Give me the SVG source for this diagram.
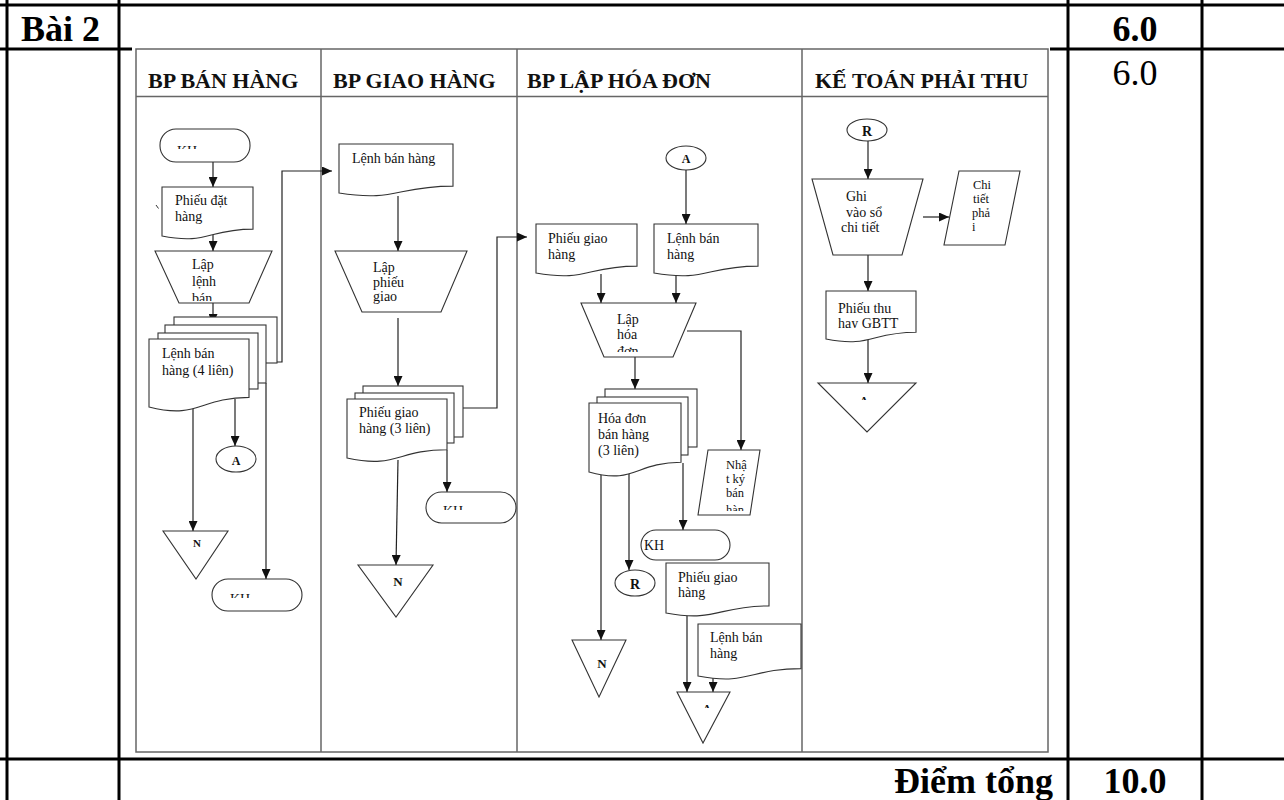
<svg xmlns="http://www.w3.org/2000/svg" width="1284" height="800" viewBox="0 0 1284 800">
<style>
.tl{stroke:#000;stroke-width:3;fill:none}
.fr{stroke:#666;stroke-width:1.5;fill:none}
.s{fill:#fff;stroke:#333;stroke-width:1.1}
.c{fill:none;stroke:#222;stroke-width:1.2;marker-end:url(#ah)}
.t{font-family:"Liberation Serif","Times New Roman",serif;font-size:14px;fill:#111}
.ts{font-family:"Liberation Serif","Times New Roman",serif;font-size:12.5px;fill:#111}
.tb{font-family:"Liberation Serif","Times New Roman",serif;font-weight:bold;fill:#111}
.big{font-family:"Liberation Serif","Times New Roman",serif;font-size:36px;fill:#000}
.hd{font-family:"Liberation Serif","Times New Roman",serif;font-size:22px;font-weight:bold;fill:#111}
</style>
<defs>
<marker id="ah" markerUnits="userSpaceOnUse" markerWidth="10" markerHeight="9" refX="10" refY="4.5" orient="auto"><path d="M0,0 L10,4.5 L0,9 Z" fill="#111"/></marker>
<clipPath id="k1"><rect x="160" y="120" width="90" height="29"/></clipPath>
<clipPath id="k2"><rect x="212" y="570" width="90" height="28"/></clipPath>
<clipPath id="k3"><rect x="426" y="490" width="90" height="20"/></clipPath>
<clipPath id="q1"><rect x="150" y="250" width="130" height="51"/></clipPath>
<clipPath id="q3"><rect x="580" y="300" width="120" height="52"/></clipPath>
<clipPath id="p1"><rect x="690" y="450" width="80" height="61"/></clipPath>
<clipPath id="n2"><rect x="380" y="578" width="40" height="20"/></clipPath>
<clipPath id="n3"><rect x="585" y="660" width="40" height="20"/></clipPath>
<clipPath id="a3"><rect x="690" y="690" width="40" height="18"/></clipPath>
<clipPath id="a4"><rect x="850" y="390" width="40" height="10"/></clipPath>
<clipPath id="d4"><rect x="826" y="291" width="90" height="37"/></clipPath>
</defs>
<rect width="1284" height="800" fill="#fff"/>
<g id="table">
<line class="tl" x1="0" y1="5" x2="1284" y2="5"/>
<line class="tl" x1="0" y1="49" x2="132" y2="49"/>
<line class="tl" x1="1050" y1="49" x2="1284" y2="49"/>
<line class="tl" x1="0" y1="759" x2="1284" y2="759"/>
<line class="tl" x1="7" y1="0" x2="7" y2="800"/>
<line class="tl" x1="119" y1="0" x2="119" y2="800"/>
<line class="tl" x1="1068" y1="0" x2="1068" y2="800"/>
<line class="tl" x1="1202" y1="0" x2="1202" y2="800"/>
<text class="big" font-weight="bold" x="21" y="41">Bài 2</text>
<text class="big" font-weight="bold" x="1135" y="41" text-anchor="middle">6.0</text>
<text class="big" x="1135" y="85" text-anchor="middle">6.0</text>
<text class="big" font-weight="bold" x="1053" y="793" text-anchor="end">Điểm tổng</text>
<text class="big" font-weight="bold" x="1135" y="793" text-anchor="middle">10.0</text>
</g>
<g id="lanes">
<rect class="fr" x="136" y="49" width="912" height="703"/>
<line class="fr" x1="136" y1="96.5" x2="1048" y2="96.5"/>
<line class="fr" x1="321" y1="49" x2="321" y2="752"/>
<line class="fr" x1="517" y1="49" x2="517" y2="752"/>
<line class="fr" x1="802" y1="49" x2="802" y2="752"/>
<text class="hd" x="148" y="88">BP BÁN HÀNG</text>
<text class="hd" x="333" y="88">BP GIAO HÀNG</text>
<text class="hd" x="527" y="88">BP LẬP HÓA ĐƠN</text>
<text class="hd" x="815" y="88">KẾ TOÁN PHẢI THU</text>
</g>
<g id="connectors">
<line class="c" x1="213" y1="162" x2="213" y2="187"/>
<line class="c" x1="213" y1="235" x2="213" y2="251"/>
<line class="c" x1="213" y1="303" x2="213" y2="324"/>
<path class="c" d="M277,362 H282 V171 H332"/>
<line class="c" x1="235" y1="399" x2="235" y2="446"/>
<line class="c" x1="193" y1="408" x2="193" y2="531"/>
<line class="c" x1="266" y1="383" x2="266" y2="579"/>
<line class="c" x1="398" y1="196" x2="398" y2="251"/>
<line class="c" x1="398" y1="318" x2="398" y2="386"/>
<path class="c" d="M463,408 H497 V237 H527"/>
<line class="c" x1="398" y1="460" x2="396" y2="565"/>
<line class="c" x1="447" y1="450" x2="447" y2="492"/>
<line class="c" x1="686" y1="170" x2="686" y2="224"/>
<line class="c" x1="601" y1="274" x2="601" y2="303"/>
<line class="c" x1="676" y1="276" x2="676" y2="303"/>
<path class="c" d="M687,331 H741 V450"/>
<line class="c" x1="635" y1="357" x2="635" y2="389"/>
<line class="c" x1="601" y1="475" x2="601" y2="640"/>
<line class="c" x1="629" y1="472" x2="629" y2="570"/>
<line class="c" x1="683" y1="463" x2="683" y2="530"/>
<line class="c" x1="687" y1="615" x2="687" y2="692"/>
<line class="c" x1="713" y1="676" x2="713" y2="692"/>
<line class="c" x1="868" y1="141" x2="868" y2="179"/>
<line class="c" x1="923" y1="217" x2="949" y2="217"/>
<line class="c" x1="868" y1="255" x2="868" y2="291"/>
<line class="c" x1="868" y1="340" x2="868" y2="383"/>
</g>
<g id="n-kh1">
<rect class="s" x="160" y="129" width="90" height="33" rx="16"/>
<text class="t" x="177" y="156" clip-path="url(#k1)">KH</text>
</g>
<g id="n-phieudathang">
<path class="s" d="M162,187 H253 V229.1 C207.5,229.1 207.5,245.1 162,236 Z"/>
<path d="M156,205 L158.5,208.5" stroke="#333" stroke-width="1" fill="none"/>
<text class="t" x="175" y="205">Phiếu đặt</text>
<text class="t" x="175" y="221">hàng</text>
</g>
<g id="n-laplenhban">
<path class="s" d="M155,251 H272 L249,303 H179 Z"/>
<g clip-path="url(#q1)">
<text class="t" x="192" y="269">Lập</text>
<text class="t" x="192" y="286">lệnh</text>
<text class="t" x="192" y="303">bán</text>
</g>
</g>
<g id="n-lenhbanhang4">
<rect class="s" x="174" y="317" width="103" height="46"/>
<rect class="s" x="165" y="325" width="101" height="58"/>
<rect class="s" x="158" y="333" width="100" height="56"/>
<path class="s" d="M149,339 H249 V397.4 C199,397.4 199,419.6 149,407 Z"/>
<text class="t" x="162" y="358">Lệnh bán</text>
<text class="t" x="162" y="375">hàng (4 liên)</text>
</g>
<g id="n-a1">
<ellipse class="s" cx="236" cy="459" rx="20" ry="13"/>
<text class="tb" font-size="12" x="236" y="465" text-anchor="middle">A</text>
</g>
<g id="n-n1">
<path class="s" d="M163,531 H228 L196,579 Z"/>
<text class="tb" font-size="11" x="197" y="547" text-anchor="middle">N</text>
</g>
<g id="n-kh2">
<rect class="s" x="212" y="579" width="90" height="32" rx="16"/>
<text class="t" x="230" y="604" clip-path="url(#k2)">KH</text>
</g>
<g id="n-lenhbanhang2">
<path class="s" d="M339,144 H453 V186.1 C396,186.1 396,202.1 339,193 Z"/>
<text class="t" x="352" y="163">Lệnh bán hàng</text>
</g>
<g id="n-lapphieugiao">
<path class="s" d="M335,251 H467 L441,312 H362 Z"/>
<text class="t" x="373" y="272">Lập</text>
<text class="t" x="373" y="287">phiếu</text>
<text class="t" x="373" y="301">giao</text>
</g>
<g id="n-phieugiaohang3">
<rect class="s" x="363" y="386" width="100" height="51"/>
<rect class="s" x="355" y="393" width="99" height="50"/>
<path class="s" d="M347,399 H447 V449.7 C397,449.7 397,468.9 347,458 Z"/>
<text class="t" x="359" y="417">Phiếu giao</text>
<text class="t" x="359" y="433">hàng (3 liên)</text>
</g>
<g id="n-kh3">
<rect class="s" x="426" y="492" width="90" height="31" rx="15.5"/>
<text class="t" x="443" y="516" clip-path="url(#k3)">KH</text>
</g>
<g id="n-n2">
<path class="s" d="M358,565 H433 L396,617 Z"/>
<text class="tb" font-size="13" x="398" y="586" text-anchor="middle" clip-path="url(#n2)">N</text>
</g>
<g id="n-a3">
<ellipse class="s" cx="686" cy="158" rx="20" ry="12"/>
<text class="tb" font-size="12" x="686" y="163" text-anchor="middle">A</text>
</g>
<g id="n-phieugiaohang-l3">
<path class="s" d="M536,224 H637 V266.1 C586.5,266.1 586.5,282.1 536,273 Z"/>
<text class="t" x="548" y="243">Phiếu giao</text>
<text class="t" x="548" y="259">hàng</text>
</g>
<g id="n-lenhbanhang-l3">
<path class="s" d="M654,224 H758 V266.1 C706,266.1 706,282.1 654,273 Z"/>
<text class="t" x="667" y="243">Lệnh bán</text>
<text class="t" x="667" y="259">hàng</text>
</g>
<g id="n-laphoadon">
<path class="s" d="M581,303 H696 L673,357 H604 Z"/>
<g clip-path="url(#q3)">
<text class="t" x="617" y="324">Lập</text>
<text class="t" x="617" y="339">hóa</text>
<text class="t" x="617" y="356">đơn</text>
</g>
</g>
<g id="n-nhatky">
<path class="s" d="M708,450 H760 L750,515 H698 Z"/>
<g clip-path="url(#p1)">
<text class="ts" x="726" y="469">Nhậ</text>
<text class="ts" x="726" y="483">t ký</text>
<text class="ts" x="726" y="497">bán</text>
<text class="ts" x="726" y="514">hàn</text>
</g>
</g>
<g id="n-hoadon3">
<rect class="s" x="605" y="389" width="92" height="58"/>
<rect class="s" x="597" y="397" width="91" height="58"/>
<path class="s" d="M589,403 H681 V462.3 C635,462.3 635,484.8 589,472 Z"/>
<text class="t" x="598" y="423">Hóa đơn</text>
<text class="t" x="598" y="439">bán hàng</text>
<text class="t" x="598" y="455">(3 liên)</text>
</g>
<g id="n-kh4">
<rect class="s" x="641" y="530" width="89" height="30" rx="15"/>
<text class="t" font-size="15" x="644" y="550">KH</text>
</g>
<g id="n-r3">
<ellipse class="s" cx="635" cy="583" rx="20" ry="13"/>
<text class="tb" font-size="14" x="635" y="589" text-anchor="middle">R</text>
</g>
<g id="n-phieugiaohang-l3b">
<path class="s" d="M666,563 H769 V605.9 C717.5,605.9 717.5,622.3 666,613 Z"/>
<text class="t" x="678" y="582">Phiếu giao</text>
<text class="t" x="678" y="597">hàng</text>
</g>
<g id="n-lenhbanhang-l3b">
<path class="s" d="M698,624 H801 V668.6 C749.5,668.6 749.5,685.6 698,676 Z"/>
<text class="t" x="710" y="642">Lệnh bán</text>
<text class="t" x="710" y="658">hàng</text>
</g>
<g id="n-n3">
<path class="s" d="M572,640 H626 L599,697 Z"/>
<text class="tb" font-size="13" x="602" y="668" text-anchor="middle" clip-path="url(#n3)">N</text>
</g>
<g id="n-a3b">
<path class="s" d="M677,692 H730 L703,743 Z"/>
<text class="tb" font-size="11" x="707" y="712" text-anchor="middle" clip-path="url(#a3)">A</text>
</g>
<g id="n-r4">
<ellipse class="s" cx="867" cy="130" rx="20" ry="11"/>
<text class="tb" font-size="14" x="867" y="136" text-anchor="middle">R</text>
</g>
<g id="n-ghivaoso">
<path class="s" d="M812,179 H923 L902,255 H833 Z"/>
<text class="t" x="846" y="201">Ghi</text>
<text class="t" x="846" y="217">vào sổ</text>
<text class="t" x="841" y="232">chi tiết</text>
</g>
<g id="n-chitietphaithu">
<path class="s" d="M959,171 H1020 L1005,245 H944 Z"/>
<text class="ts" x="973" y="189">Chi</text>
<text class="ts" x="973" y="203">tiết</text>
<text class="ts" x="972" y="217">phả</text>
<text class="ts" x="972" y="231">i</text>
</g>
<g id="n-phieuthu">
<path class="s" d="M826,291 H916 V332.2 C871,332.2 871,347.9 826,339 Z"/>
<g clip-path="url(#d4)">
<text class="t" x="838" y="313">Phiếu thu</text>
<text class="t" x="838" y="328">hay GBTT</text>
</g>
</g>
<g id="n-n4">
<path class="s" d="M818,383 H916 L867,432 Z"/>
<text class="tb" font-size="11" x="864" y="404" text-anchor="middle" clip-path="url(#a4)">A</text>
</g>
</svg>
